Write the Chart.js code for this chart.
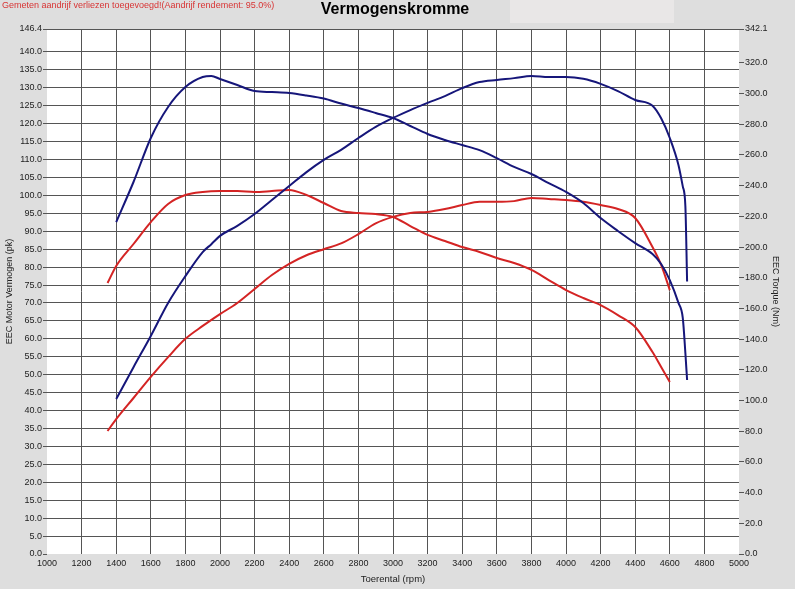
<!DOCTYPE html>
<html>
<head>
<meta charset="utf-8">
<title>Vermogenskromme</title>
<script src="https://cdn.jsdelivr.net/npm/chart.js@4.4.1/dist/chart.umd.min.js"></script>
<style>
  html, body { margin: 0; padding: 0; background: #dedede; }
  canvas { display: block; }
</style>
</head>
<body>
<canvas id="dynoChart" width="795" height="589"></canvas>
<script>
// ============================================================================
// Vermogenskromme - data
// ============================================================================

const xTicks = [1000, 1200, 1400, 1600, 1800, 2000, 2200, 2400, 2600, 2800, 3000,
    3200, 3400, 3600, 3800, 4000, 4200, 4400, 4600, 4800, 5000];
const leftTicks = [0, 5, 10, 15, 20, 25, 30, 35, 40, 45, 50, 55, 60, 65, 70, 75, 80,
    85, 90, 95, 100, 105, 110, 115, 120, 125, 130, 135, 140, 146.4];
const rightTicks = [0, 20, 40, 60, 80, 100, 120, 140, 160, 180, 200, 220, 240, 260,
    280, 300, 320, 342.1];

// blauwe meting
const rpmBlue = [1400, 1500, 1600, 1700, 1800, 1900, 1950, 2000, 2100, 2200, 2300, 2400,
    2500, 2600, 2700, 2800, 2900, 3000, 3100, 3200, 3300, 3400, 3500, 3600, 3700, 3800,
    3900, 4000, 4100, 4200, 4300, 4400, 4500, 4550, 4600, 4650, 4675, 4690, 4700];
const blueTorque = [216.3, 242.4, 271.1, 291.3, 304.3, 310.8, 311.5, 309.5, 305.6, 301.7,
    301.0, 300.4, 298.8, 296.8, 293.5, 290.6, 287.4, 284.1, 278.9, 273.7, 269.8, 266.5,
    263.2, 258.0, 252.2, 247.6, 241.7, 235.9, 228.7, 218.9, 210.5, 202.6, 195.5, 189.0,
    178.5, 163.6, 153.8, 131.0, 113.4];
const bluePower = [43.2, 52.1, 60.8, 70.0, 77.5, 84.2, 86.4, 88.7, 91.5, 94.8, 98.7, 102.6,
    106.5, 109.9, 112.7, 116.0, 119.1, 121.6, 123.8, 125.8, 127.7, 129.9, 131.6, 132.2,
    132.7, 133.3, 133.0, 133.0, 132.5, 131.1, 129.1, 126.6, 125.0, 121.5, 116.0, 108.5,
    102.5, 97.0, 76.0];

// rode meting
const rpmRed = [1350, 1400, 1500, 1600, 1700, 1800, 1900, 2000, 2100, 2200, 2300, 2400,
    2500, 2600, 2700, 2800, 2900, 3000, 3100, 3200, 3300, 3400, 3500, 3600, 3700, 3800,
    3900, 4000, 4100, 4200, 4300, 4400, 4500, 4550, 4600];
const redTorque = [176.6, 187.7, 202.0, 216.3, 228.1, 233.9, 235.9, 236.5, 236.5, 235.9,
    236.5, 237.2, 233.9, 228.7, 223.5, 222.2, 221.5, 219.6, 213.7, 207.9, 204.0, 200.0,
    196.8, 192.9, 189.6, 185.1, 178.5, 172.0, 166.8, 162.2, 155.7, 147.9, 131.6, 121.9,
    112.1];
const redPower = [34.3, 37.6, 43.5, 49.4, 54.9, 60.0, 63.6, 66.9, 70.0, 73.9, 77.8, 80.9,
    83.3, 85.0, 86.6, 89.2, 92.2, 94.0, 95.1, 95.4, 96.2, 97.3, 98.2, 98.2, 98.4, 99.3,
    99.0, 98.7, 98.2, 97.3, 96.2, 93.7, 85.6, 80.6, 73.6];

const BLUE = '#16167a';
const RED = '#d42424';
const GRID = '#555555';
const FONT = 'Arial, "Liberation Sans", sans-serif';

function toPoints(xs, ys) {
    return xs.map((x, i) => ({ x: x, y: ys[i] }));
}

function setTicks(values) {
    return scale => { scale.ticks = values.map(v => ({ value: v })); };
}

// achtergrond, plotvlak en teksten bovenaan
const framePlugin = {
    id: 'frame',
    beforeDraw(chart) {
        const { ctx, chartArea: a } = chart;
        ctx.save();
        ctx.fillStyle = '#dedede';
        ctx.fillRect(0, 0, chart.width, chart.height);
        ctx.fillStyle = '#e9e7e7';
        ctx.fillRect(510, 0, 164, 23);
        ctx.fillStyle = '#ffffff';
        ctx.fillRect(a.left, a.top, a.right - a.left, a.bottom - a.top);
        ctx.restore();
    },
    afterDraw(chart) {
        const ctx = chart.ctx;
        ctx.save();
        ctx.textBaseline = 'middle';
        ctx.fillStyle = '#d83434';
        ctx.font = '9px ' + FONT;
        ctx.textAlign = 'left';
        ctx.fillText('Gemeten aandrijf verliezen toegevoegd!(Aandrijf rendement: 95.0%)', 2, 6);
        ctx.fillStyle = '#000';
        ctx.font = 'bold 16px ' + FONT;
        ctx.textAlign = 'center';
        ctx.fillText('Vermogenskromme', 395, 10);
        ctx.restore();
    }
};

const edgeX = c => (c.tick && (c.tick.value === 1000 || c.tick.value === 5000)) ? 'rgba(0,0,0,0)' : GRID;
const edgeY = c => (c.tick && c.tick.value === 0) ? 'rgba(0,0,0,0)' : GRID;

const ctx = document.getElementById('dynoChart').getContext('2d');

const chart = new Chart(ctx, {
    type: 'line',
    data: {
        datasets: [
            { label: 'Koppel blauw', data: toPoints(rpmBlue, blueTorque), yAxisID: 'yR', borderColor: BLUE },
            { label: 'Vermogen blauw', data: toPoints(rpmBlue, bluePower), yAxisID: 'y', borderColor: BLUE },
            { label: 'Koppel rood', data: toPoints(rpmRed, redTorque), yAxisID: 'yR', borderColor: RED },
            { label: 'Vermogen rood', data: toPoints(rpmRed, redPower), yAxisID: 'y', borderColor: RED }
        ]
    },
    options: {
        responsive: false,
        animation: false,
        layout: { padding: { top: 29 } },
        elements: {
            point: { radius: 0 },
            line: { borderWidth: 2, cubicInterpolationMode: 'monotone', fill: false }
        },
        plugins: {
            legend: { display: false },
            tooltip: { enabled: false }
        },
        scales: {
            x: {
                type: 'linear',
                min: 1000,
                max: 5000,
                afterBuildTicks: setTicks(xTicks),
                afterFit: s => { s.height = 35; },
                border: { display: false },
                grid: { color: edgeX, lineWidth: 1, drawTicks: false },
                ticks: { autoSkip: false, maxRotation: 0, padding: 4, color: '#222', font: { family: FONT, size: 9 }, callback: v => String(v) },
                title: { display: true, text: 'Toerental (rpm)', color: '#222', font: { family: FONT, size: 9.5 }, padding: { top: 0, bottom: 4 } }
            },
            y: {
                position: 'left',
                min: 0,
                max: 146.4,
                afterBuildTicks: setTicks(leftTicks),
                afterFit: s => { s.width = 47; },
                border: { display: false },
                grid: { color: edgeY, tickColor: GRID, lineWidth: 1, tickLength: 4 },
                ticks: { autoSkip: false, padding: 1, color: '#222', font: { family: FONT, size: 9 }, callback: v => v.toFixed(1) },
                title: { display: true, text: 'EEC Motor Vermogen (pk)', color: '#222', font: { family: FONT, size: 9 }, padding: { top: 4, bottom: 0 } }
            },
            yR: {
                position: 'right',
                min: 0,
                max: 342.1,
                afterBuildTicks: setTicks(rightTicks),
                afterFit: s => { s.width = 56; },
                border: { display: false },
                grid: { drawOnChartArea: false, tickColor: GRID, tickLength: 5 },
                ticks: { autoSkip: false, padding: 1, color: '#222', font: { family: FONT, size: 9 }, callback: v => v.toFixed(1) },
                title: { display: true, text: 'EEC Torque (Nm)', color: '#222', font: { family: FONT, size: 9 }, padding: { top: 14, bottom: 0 } }
            }
        }
    },
    plugins: [framePlugin]
});
</script>
</body>
</html>
